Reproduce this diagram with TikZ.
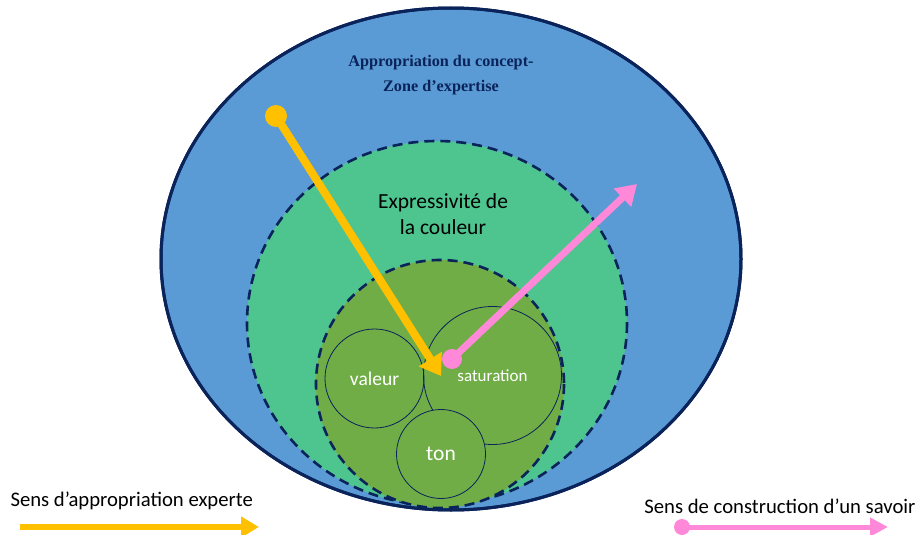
\documentclass[tikz,border=0pt]{standalone}
\usepackage{fontspec}
\setmainfont{Carlito}
\newfontfamily\titlefont{Liberation Serif}
\usetikzlibrary{arrows.meta}
\definecolor{zoneblue}{RGB}{91,155,213}
\definecolor{zonegreen}{RGB}{78,196,143}
\definecolor{coreolive}{RGB}{112,173,71}
\definecolor{borderblue}{RGB}{10,35,90}
\definecolor{expertyellow}{RGB}{255,192,0}
\definecolor{savoirpink}{RGB}{255,136,216}
\tikzset{
    zone/.style = {draw = borderblue, line width = 2.6pt, dash pattern = on 10pt off 6pt},
    facet/.style = {draw = borderblue, line width = 0.8pt, circle, inner sep = 0pt, text = white},
    dotstart/.style = {circle, inner sep = 0pt, minimum size = #1},
}
\begin{document}
\begin{tikzpicture}[x = 1pt, y = -1pt]
    \useasboundingbox (0,0) rectangle (919,535);
    % zones
    \draw[fill = zoneblue, draw = borderblue, line width = 3pt] (451,259) ellipse [x radius = 290, y radius = 251];
    \begin{scope}
        \clip (451,259) ellipse [x radius = 290, y radius = 251];
        \draw[zone, fill = zonegreen] (437,323) ellipse [x radius = 190, y radius = 182];
        \draw[zone, fill = coreolive] (440,384) circle [radius = 124];
    \end{scope}
    \draw[draw = borderblue, line width = 3pt] (451,259) ellipse [x radius = 290, y radius = 251];
    % facets
    \node[facet, minimum size = 138pt, font = \fontsize{17}{19}\selectfont] (saturation) at (492.5,375.5) {saturation};
    \node[facet, minimum size = 99pt, font = \fontsize{19.5}{21}\selectfont] (valeur) at (374.5,378.5) {valeur};
    \node[facet, fill = coreolive, minimum size = 89pt, font = \fontsize{21.5}{23}\selectfont] (ton) at (441,454) {ton};
    % labels
    \begin{scope}[every node/.append style = {align = center}]
        \node[text = borderblue, font = \titlefont\bfseries\fontsize{16.2}{25}\selectfont] (concept) at (441,75) {Appropriation du concept-\\Zone d’expertise};
        \node[font = \fontsize{21.5}{26}\selectfont] (expressivite) at (443,214) {Expressivité de\\la couleur};
    \end{scope}
    % arrows
    \node[dotstart = 22pt, fill = expertyellow] (ystart) at (276,116) {};
    \coordinate (yend) at (441,376);
    \draw[expertyellow, line width = 8pt, -{Triangle[length = 20pt, width = 26pt]}] (ystart.center) -- (yend);
    \node[dotstart = 20pt, fill = savoirpink] (pstart) at (452,359) {};
    \coordinate (pend) at (637,184);
    \draw[savoirpink, line width = 7pt, -{Triangle[length = 20pt, width = 24pt]}] (pstart.center) -- (pend);
    % legend
    \node[anchor = west, font = \fontsize{20.7}{22}\selectfont] (expertlegend) at (7,501) {Sens d’appropriation experte};
    \coordinate (ylegstart) at (20,527);
    \coordinate (ylegend) at (259,527);
    \draw[expertyellow, line width = 6pt, -{Triangle[length = 18pt, width = 20pt]}] (ylegstart) -- (ylegend);
    \node[anchor = east, font = \fontsize{20.7}{22}\selectfont] (savoirlegend) at (919,506) {Sens de construction d’un savoir};
    \node[dotstart = 16pt, fill = savoirpink] (plegstart) at (682,527) {};
    \coordinate (plegend) at (888,527);
    \draw[savoirpink, line width = 5pt, -{Triangle[length = 18pt, width = 18pt]}] (plegstart.center) -- (plegend);
\end{tikzpicture}
\end{document}
